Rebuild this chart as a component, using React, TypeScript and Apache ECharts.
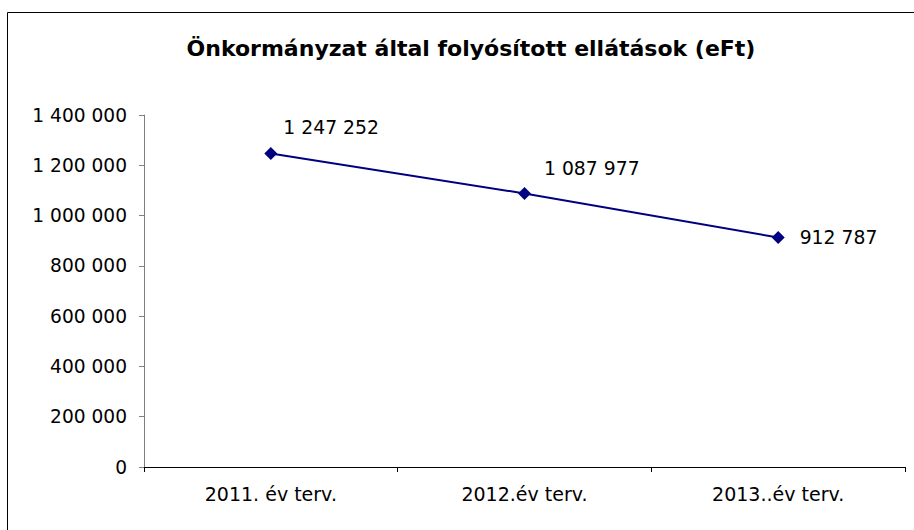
import React, { useEffect, useRef } from "react";
import * as echarts from "echarts";

const categories = ["2011. év terv.", "2012.év terv.", "2013..év terv."];
const values = [1247252, 1087977, 912787];
const yTicks = { min: 0, max: 1400000, interval: 200000 };
const titleText = "Önkormányzat által folyósított ellátások (eFt)";

const fmt = (v: number) => String(v).replace(/\B(?=(\d{3})+(?!\d))/g, " ");
const FONT = "DejaVu Sans, Verdana, sans-serif";

export default function App() {
  const ref = useRef<HTMLDivElement>(null);
  useEffect(() => {
    if (!ref.current) return;
    const chart = echarts.init(ref.current, undefined, { renderer: "svg" });
    const labelOffsets: [number, number][] = [
      [1, -26],
      [8, -25],
      [10, 0],
    ];
    chart.setOption({
      animation: false,
      backgroundColor: "#ffffff",
      title: {
        text: titleText,
        left: 466,
        textAlign: "center",
        top: 32,
        textStyle: {
          fontFamily: FONT,
          fontWeight: "bold",
          fontSize: 22,
          color: "#000",
        },
      },
      graphic: [
        {
          type: "rect",
          shape: { x: 7.5, y: 12.5, width: 930, height: 540 },
          style: { fill: "none", stroke: "#000", lineWidth: 1 },
          silent: true,
        },
      ],
      grid: { left: 144, right: 9, top: 115, bottom: 63, containLabel: false },
      xAxis: {
        type: "category",
        data: categories,
        boundaryGap: true,
        axisLine: { lineStyle: { color: "#000", width: 1 } },
        axisTick: { show: true, alignWithLabel: false, length: 5, lineStyle: { color: "#000" } },
        axisLabel: {
          fontFamily: FONT,
          fontSize: 19,
          color: "#000",
          margin: 17,
        },
        splitLine: { show: false },
      },
      yAxis: {
        type: "value",
        min: yTicks.min,
        max: yTicks.max,
        interval: yTicks.interval,
        axisLine: { show: true, lineStyle: { color: "#808080", width: 1 } },
        axisTick: { show: true, length: 5, lineStyle: { color: "#808080" } },
        axisLabel: {
          fontFamily: FONT,
          fontSize: 18.6,
          color: "#000",
          margin: 17,
          formatter: (v: number) => fmt(v),
        },
        splitLine: { show: false },
      },
      series: [
        {
          type: "line",
          data: values.map((v, i) => ({
            value: v,
            label: { offset: labelOffsets[i] },
          })),
          symbol: "diamond",
          symbolSize: 13,
          lineStyle: { color: "#000080", width: 2 },
          itemStyle: { color: "#000080" },
          label: {
            show: true,
            position: "right",
            distance: 5,
            fontFamily: FONT,
            fontSize: 18.8,
            color: "#000",
            formatter: (p: any) => fmt(p.value),
          },
        },
      ],
    });
    return () => chart.dispose();
  }, []);
  return (
    <div
      ref={ref}
      style={{ position: "fixed", left: 0, top: 0, width: 914, height: 530 }}
    />
  );
}
